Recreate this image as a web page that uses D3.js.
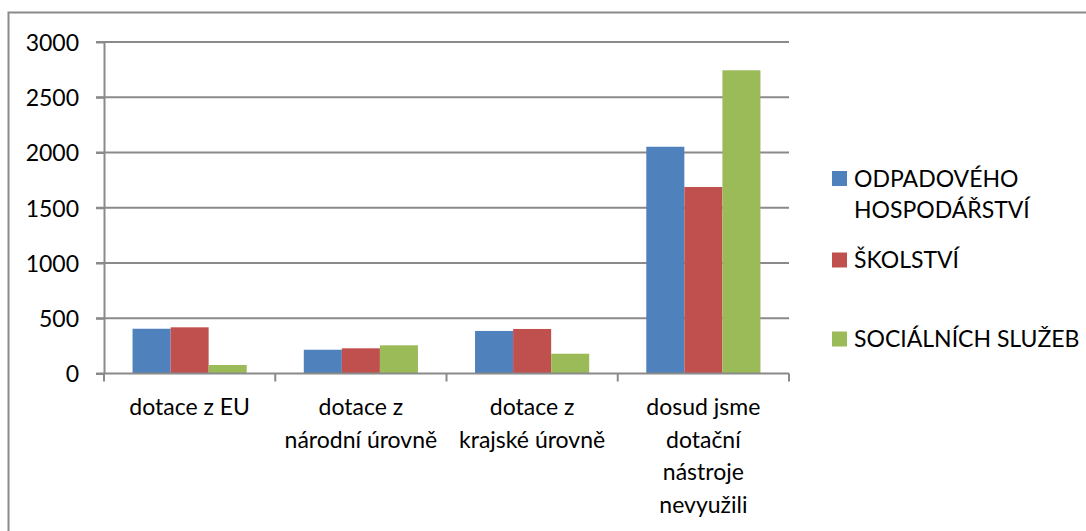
<!DOCTYPE html>
<html>
<head>
<meta charset="utf-8">
<script src="https://cdn.jsdelivr.net/npm/d3@7"></script>
<style>
  html, body { margin: 0; padding: 0; background: #fff; }
  svg { display: block; }
  text { font-family: Lato, "Open Sans", sans-serif; fill: #000; }
</style>
</head>
<body>
<svg id="chart" width="1086" height="531"></svg>
<script>
// ---- data ----
const categories = [
  ["dotace z EU"],
  ["dotace z", "národní úrovně"],
  ["dotace z", "krajské úrovně"],
  ["dosud jsme", "dotační", "nástroje", "nevyužili"]
];
const seriesNames = [
  ["ODPADOVÉHO", "HOSPODÁŘSTVÍ"],
  ["ŠKOLSTVÍ"],
  ["SOCIÁLNÍCH SLUŽEB"]
];
const odpadoveHospodarstvi = [405, 215, 385, 2052];
const skolstvi = [418, 228, 403, 1688];
const socialniSluzeb = [77, 255, 179, 2744];
const yTicks = [0, 500, 1000, 1500, 2000, 2500, 3000];
const colors = ["#4F81BD", "#C0504D", "#9BBB59"];

(function () {
const seriesValues = [odpadoveHospodarstvi, skolstvi, socialniSluzeb];
const catKeys = categories.map((c, i) => i);

const svg = d3.select("#chart");
const fontSize = 23;
const gridColor = "#8a8a8a";

// outer border (top and left visible)
svg.append("rect")
  .attr("x", 8.5).attr("y", 12.5)
  .attr("width", 1200).attr("height", 600)
  .attr("fill", "none").attr("stroke", gridColor).attr("stroke-width", 2);

const pLeft = 104, pRight = 789, pTop = 42, pBottom = 373.5;

const x0 = d3.scaleBand().domain(catKeys).range([pLeft, pRight]).paddingInner(0).paddingOuter(0);
const bw = x0.bandwidth();
const x1 = d3.scaleBand().domain([0, 1, 2]).range([bw / 6, bw * 5 / 6]).padding(0);
const y = d3.scaleLinear().domain([0, 3000]).range([pBottom, pTop]);

// gridlines
svg.append("g").selectAll("line").data(yTicks.filter(d => d > 0)).join("line")
  .attr("x1", pLeft - 8).attr("x2", pRight)
  .attr("y1", d => y(d)).attr("y2", d => y(d))
  .attr("stroke", gridColor).attr("stroke-width", 2);

// bars
const groups = svg.append("g").selectAll("g").data(catKeys).join("g")
  .attr("transform", d => `translate(${x0(d)},0)`);
groups.selectAll("rect")
  .data(ci => seriesValues.map((vals, si) => ({ si, v: vals[ci] })))
  .join("rect")
  .attr("x", d => x1(d.si))
  .attr("width", x1.bandwidth())
  .attr("y", d => y(d.v))
  .attr("height", d => y(0) - y(d.v))
  .attr("fill", d => colors[d.si]);

// y axis
const yAxis = d3.axisLeft(y).tickValues(yTicks).tickFormat(d3.format("d"))
  .tickSize(8).tickPadding(17).tickSizeOuter(0);
const gy = svg.append("g").attr("transform", `translate(${pLeft},0)`).call(yAxis);
gy.select(".domain").attr("stroke", gridColor).attr("stroke-width", 2);
gy.selectAll(".tick line").attr("stroke", gridColor).attr("stroke-width", 2);
gy.selectAll(".tick text").attr("font-size", fontSize).attr("font-family", "Lato").attr("dy", "0.36em");

// x axis line and ticks
svg.append("line").attr("x1", pLeft - 8).attr("x2", pRight).attr("y1", pBottom).attr("y2", pBottom)
  .attr("stroke", gridColor).attr("stroke-width", 2);
const tickXs = catKeys.map(k => x0(k)).concat([pRight]);
svg.append("g").selectAll("line").data(tickXs).join("line")
  .attr("x1", d => d).attr("x2", d => d)
  .attr("y1", pBottom).attr("y2", pBottom + 8)
  .attr("stroke", gridColor).attr("stroke-width", 2);

// x labels
const lineH = 32.7;
const xl = svg.append("g").selectAll("text").data(catKeys).join("text")
  .attr("text-anchor", "middle")
  .attr("font-size", fontSize)
  .attr("x", d => x0(d) + bw / 2)
  .attr("y", 415);
xl.selectAll("tspan").data(d => categories[d]).join("tspan")
  .attr("x", function () { return d3.select(this.parentNode).attr("x"); })
  .attr("dy", (d, i) => i === 0 ? 0 : lineH)
  .text(d => d);

// legend
const legendYs = [171, 252.5, 331.5];
const lg = svg.append("g").selectAll("g").data(seriesNames).join("g")
  .attr("transform", (d, i) => `translate(832,${legendYs[i]})`);
lg.append("rect").attr("width", 15).attr("height", 15).attr("fill", (d, i) => colors[i]);
lg.append("text").attr("x", 22).attr("y", 15.5).attr("font-size", fontSize)
  .selectAll("tspan").data(d => d).join("tspan")
  .attr("x", 22).attr("dy", (d, i) => i === 0 ? 0 : 31.5)
  .text(d => d);
})();
</script>
</body>
</html>
